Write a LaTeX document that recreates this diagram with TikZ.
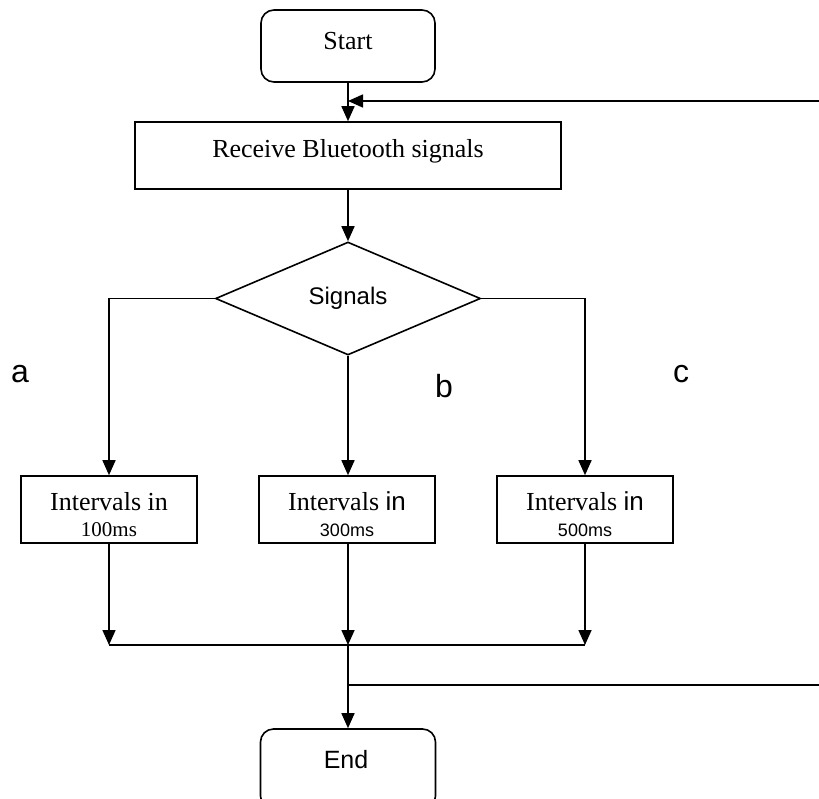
\documentclass[tikz,border=0pt]{standalone}
\usepackage{fontspec}
\setmainfont{Liberation Serif}
\setsansfont{Liberation Sans}
\usetikzlibrary{shapes.geometric,arrows.meta}
\begin{document}
\begin{tikzpicture}[x=1pt,y=-1pt,
  line/.style={line width=1.6pt, draw=black},
  arr/.style={line, -{Triangle[length=15pt,width=13pt]}},
  termbox/.style={draw, line width=1.6pt, rounded corners=13pt, minimum width=174pt, minimum height=72pt, inner sep=0pt},
  procbox/.style={draw, line width=1.6pt, inner sep=0pt, minimum width=176pt, minimum height=67pt},
  decbox/.style={draw, diamond, line width=1.6pt, minimum width=265pt, minimum height=113pt, inner sep=0pt, font=\sffamily\fontsize{24}{28}\selectfont},
  serifbig/.style={font=\rmfamily\fontsize{26}{30}\selectfont, inner sep=0pt, anchor=base},
  serifsmall/.style={font=\rmfamily\fontsize{21}{25}\selectfont, inner sep=0pt, anchor=base},
  sanssmall/.style={font=\sffamily\fontsize{18}{22}\selectfont, inner sep=0pt, anchor=base},
  sansmid/.style={font=\sffamily\fontsize{25}{29}\selectfont, inner sep=0pt, anchor=base},
  sansbig/.style={font=\sffamily\fontsize{32}{36}\selectfont, inner sep=0pt, anchor=base west}
]
\useasboundingbox (0,0) rectangle (819,798);
\clip (0,0) rectangle (819,798);

% shapes
\node[termbox] (start) at (348,46) {};
\node[serifbig] (tstart) at (348,49) {Start};

\node[procbox, minimum width=426pt] (recv) at (348,155.5) {};
\node[serifbig] (trecv) at (348,157) {Receive Bluetooth signals};

\node[decbox] (dec) at (348,298.5) {Signals};

\node[procbox] (box1) at (109,509.5) {};
\node[serifbig] (t1a) at (109,510) {Intervals in};
\node[serifsmall] (t1b) at (109,536) {100ms};

\node[procbox] (box2) at (347,509.5) {};
\node[serifbig] (t2a) at (347,510) {Intervals {\sffamily in}};
\node[sanssmall] (t2b) at (347,536) {300ms};

\node[procbox] (box3) at (585,509.5) {};
\node[serifbig] (t3a) at (585,510) {Intervals {\sffamily in}};
\node[sanssmall] (t3b) at (585,536) {500ms};

\node[termbox, minimum width=175pt, minimum height=80pt] (end) at (348,769) {};
\node[sansmid] (tend) at (346,768) {End};

\node[sansbig] (la) at (11,382) {a};
\node[sansbig] (lb) at (435,397) {b};
\node[sansbig] (lc) at (673,382) {c};

% coordinates
\coordinate (fbtop) at (819,101);
\coordinate (ja) at (109,645);
\coordinate (jb) at (348,645);
\coordinate (jc) at (585,645);
\coordinate (fbsplit) at (348,685);
\coordinate (fbbot) at (819,685);

% connectors
\draw[arr] (start.south) -- (recv.north);
\draw[arr] (fbtop) -- (fbtop -| start.south);
\draw[arr] (recv.south) -- (dec.north);
\draw[arr] (dec.west) -| (box1.north);
\draw[arr] (dec.south) -- (dec.south |- box2.north);
\draw[arr] (dec.east) -| (box3.north);
\draw[arr] (box1.south) -- (ja);
\draw[arr] (box2.south -| jb) -- (jb);
\draw[arr] (box3.south) -- (jc);
\draw[line] (ja) -- (jc);
\draw[arr] (jb) -- (end.north);
\draw[line] (fbsplit) -- (fbbot);
\end{tikzpicture}
\end{document}
